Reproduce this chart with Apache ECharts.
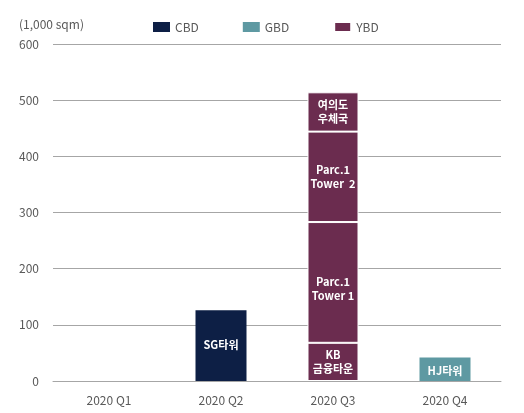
<!DOCTYPE html>
<html>
<head>
<meta charset="utf-8">
<script src="https://cdn.jsdelivr.net/npm/echarts@6/dist/echarts.min.js"></script>
<style>
html,body{margin:0;padding:0;background:#fff;}
#chart{width:524px;height:413px;}
</style>
</head>
<body>
<div id="chart"></div>
<script>
const categories = ['2020 Q1', '2020 Q2', '2020 Q3', '2020 Q4'];
const yTicks = [0, 100, 200, 300, 400, 500, 600];
const cbdValues = [null, 126, null, null];
const cbdLabels = ['', 'SG타워', '', ''];
const gbdValues = [null, null, null, 42];
const gbdLabels = ['', '', '', 'HJ타워'];
// YBD 2020 Q3 stacked segments (bottom to top)
const ybdSegmentValues = [68, 215, 161, 70];
const ybdSegmentLabels = ['KB\n금융타운', 'Parc.1\nTower 1', 'Parc.1\nTower  2', '여의도\n우체국'];
const ybdCategoryIndex = 2;

const colors = { CBD: '#0d1f45', GBD: '#5e99a2', YBD: '#6b2c4f' };
const fontFamily = '"Noto Sans CJK KR", "Noto Sans", sans-serif';

const labelStyle = {
  show: true,
  position: 'inside',
  color: '#ffffff',
  fontWeight: 'bold',
  fontSize: 11,
  lineHeight: 14,
  fontFamily: fontFamily
};

function makeData(values, labels) {
  return values.map((v, i) => ({ value: v, label: { formatter: labels[i] } }));
}

const series = [
  {
    name: 'CBD', type: 'bar', stack: 'total', barWidth: 51,
    itemStyle: { color: colors.CBD },
    label: Object.assign({}, labelStyle, { offset: [0, -1] }),
    data: makeData(cbdValues, cbdLabels)
  },
  {
    name: 'GBD', type: 'bar', stack: 'total', barWidth: 51,
    itemStyle: { color: colors.GBD },
    label: Object.assign({}, labelStyle, { offset: [0, 2] }),
    data: makeData(gbdValues, gbdLabels)
  }
];

ybdSegmentValues.forEach((v, k) => {
  const vals = categories.map((c, i) => (i === ybdCategoryIndex ? v : null));
  const labs = categories.map((c, i) => (i === ybdCategoryIndex ? ybdSegmentLabels[k] : ''));
  series.push({
    name: 'YBD', type: 'bar', stack: 'total', barWidth: 51,
    itemStyle: { color: colors.YBD, borderColor: '#ffffff', borderWidth: 1 },
    label: Object.assign({}, labelStyle, { offset: [0, k === 1 ? 6 : 0] }),
    data: makeData(vals, labs)
  });
});

const chart = echarts.init(document.getElementById('chart'), null, { renderer: 'canvas' });
chart.setOption({
  animation: false,
  backgroundColor: '#ffffff',
  textStyle: { fontFamily: fontFamily },
  title: {
    text: '(1,000 sqm)',
    left: 14, top: 13,
    textStyle: { fontSize: 12, fontWeight: 'normal', color: '#595959', fontFamily: fontFamily }
  },
  legend: {
    data: ['CBD', 'GBD', 'YBD'],
    left: 148, top: 16,
    icon: 'rect',
    itemWidth: 17, itemHeight: 10,
    itemGap: 44,
    textStyle: { fontSize: 12, color: '#595959', fontFamily: fontFamily }
  },
  grid: { left: 53, right: 23, top: 44, bottom: 32, containLabel: false },
  xAxis: {
    type: 'category',
    data: categories,
    axisTick: { show: false },
    axisLine: { show: true, lineStyle: { color: '#a6a6a6', width: 1 } },
    axisLabel: { color: '#595959', fontSize: 12, margin: 13, fontFamily: fontFamily }
  },
  yAxis: {
    type: 'value',
    min: yTicks[0], max: yTicks[yTicks.length - 1], interval: 100,
    axisLine: { show: false },
    axisTick: { show: false },
    splitLine: { lineStyle: { color: '#a6a6a6', width: 1 } },
    axisLabel: { color: '#595959', fontSize: 12, margin: 14, fontFamily: fontFamily }
  },
  series: series
});
</script>
</body>
</html>
